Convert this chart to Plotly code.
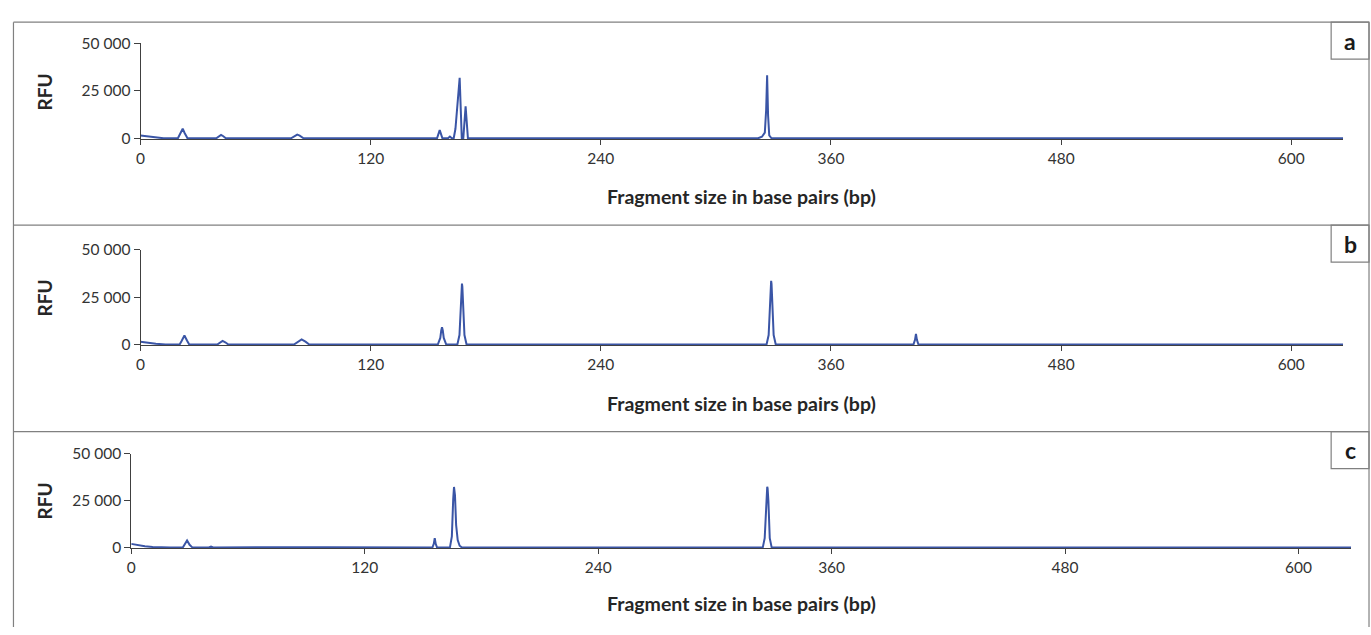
import plotly.graph_objects as go

# ---------------- data ----------------
# Panel a
bp_a = [0, 3, 6, 9, 12,
        19.5, 21, 22, 23, 24.5,
        39.5, 41, 42, 43, 44.5,
        78.5, 80.5, 81.7, 83, 85,
        154.6, 156, 157.4,
        160.3, 161.3, 162.3,
        163.3, 164.2, 166.4, 167.5,
        168.3, 169.5, 170.7,
        322, 324, 325.5, 326.2, 326.7, 327.2, 327.8, 329,
        627]
rfu_a = [1500, 1200, 700, 250, 0,
         0, 2800, 5000, 2800, 0,
         0, 1200, 1700, 1200, 0,
         0, 1400, 1900, 1400, 0,
         0, 4300, 0,
         0, 900, 0,
         0, 5000, 31800, 0,
         0, 16800, 0,
         0, 800, 3000, 15000, 33200, 12000, 1500, 0,
         0]

# Panel b
bp_b = [0, 4, 8, 13,
        20.4, 21.5, 22.9, 24.3, 25.4,
        40, 41.5, 42.8, 44.2, 45.8,
        80, 82, 84, 86, 88,
        155, 156.3, 156.8, 157.2, 157.6, 158.1, 159.4,
        165.2, 166.3, 167, 167.4, 167.6, 167.8, 168.2, 168.9, 170,
        326.4, 327.5, 328.2, 328.6, 328.8, 329.0, 329.4, 330.1, 331.2,
        403, 403.8, 404.3, 404.8, 405.6,
        627]
rfu_b = [1500, 900, 400, 0,
         0, 2000, 4800, 2000, 0,
         0, 1200, 1900, 1200, 0,
         0, 1500, 2700, 1500, 0,
         0, 3500, 7500, 9100, 7500, 3500, 0,
         0, 5000, 22000, 30500, 32100, 30500, 22000, 5000, 0,
         0, 5000, 23000, 32000, 33600, 32000, 23000, 5000, 0,
         0, 2500, 5600, 2500, 0,
         0]

# Panel c
bp_c = [0, 3, 7, 11, 15, 20,
        26.5, 27.7, 28.7, 30, 31.5,
        39.5, 41, 42.5,
        50, 70, 100, 130,
        154.8, 155.5, 156, 156.5, 157.2,
        163.8, 164.8, 165.5, 165.9, 166.4, 167, 167.8, 168.8, 170,
        324.6, 325.6, 326.3, 326.7, 326.9, 327.1, 327.5, 328.2, 329.2,
        627]
rfu_c = [2000, 1300, 700, 300, 100, 0,
         0, 2500, 3800, 1500, 0,
         0, 500, 0,
         100, 200, 150, 0,
         0, 2000, 5000, 2000, 0,
         0, 6000, 26000, 32300, 28000, 12000, 4000, 1000, 0,
         0, 5000, 25000, 31500, 32400, 31500, 25000, 5000, 0,
         0]

x_ticks = [0, 120, 240, 360, 480, 600]
y_ticks = [0, 25000, 50000]
y_ticklabels = ["0", "25 000", "50 000"]
panel_labels = ["a", "b", "c"]
x_title = "Fragment size in base pairs (bp)"
y_title = "RFU"

# ---------------- layout geometry (pixels) ----------------
W, H = 1371, 635
LINE_COLOR = "#3A55A6"
AXIS_COLOR = "#404040"
FRAME_COLOR = "#808080"
FONT = "Lato, 'Open Sans', sans-serif"


def px(x):
    return x / W


def py(y):
    return 1 - y / H


# per panel: x-left, x-right, y(50000), y(0)
panels = [
    dict(x0=136, x1=1343, ytop=34.3, ybase=132.0, bp=bp_a, rfu=rfu_a,
         title_y=192, rfu_y=84, top=12.5, bottom=221.5),
    dict(x0=136, x1=1343, ytop=246.7, ybase=344.3, bp=bp_b, rfu=rfu_b,
         title_y=405, rfu_y=296, top=221.5, bottom=434),
    dict(x0=126.7, x1=1351, ytop=456.7, ybase=553.3, bp=bp_c, rfu=rfu_c,
         title_y=611, rfu_y=505, top=434, bottom=635),
]

fig = go.Figure()
YMIN = -400
layout_axes = {}
annotations = []
shapes = []

for i, p in enumerate(panels):
    n = "" if i == 0 else str(i + 1)
    pxper = (p["ybase"] - p["ytop"]) / 50000.0
    ybottom = p["ybase"] + (-YMIN) * pxper
    fig.add_trace(go.Scatter(
        x=p["bp"], y=p["rfu"], mode="lines",
        line=dict(color=LINE_COLOR, width=2),
        xaxis="x" + n, yaxis="y" + n, showlegend=False, hoverinfo="skip"))
    layout_axes["xaxis" + n] = dict(
        domain=[px(p["x0"]), px(p["x1"])], range=[0, 627],
        anchor="y" + n, tickvals=x_ticks, ticks="outside", ticklen=5,
        tickcolor=AXIS_COLOR, showline=True, linecolor=AXIS_COLOR, linewidth=1,
        showgrid=False, zeroline=False,
        tickfont=dict(family=FONT, size=15.5, color="#333333"),
    )
    layout_axes["yaxis" + n] = dict(
        domain=[py(ybottom), py(p["ytop"])], range=[YMIN, 50000],
        anchor="x" + n, tickvals=y_ticks, ticktext=y_ticklabels, ticks="outside",
        ticklen=6, tickcolor=AXIS_COLOR, showline=True, linecolor=AXIS_COLOR,
        linewidth=1, showgrid=False, zeroline=False,
        tickfont=dict(family=FONT, size=15.5, color="#333333"),
    )
    annotations.append(dict(
        text="<b>" + x_title + "</b>", x=px((p["x0"] + p["x1"]) / 2), y=py(p["title_y"]),
        xref="paper", yref="paper", showarrow=False,
        font=dict(family=FONT, size=19.5, color="#262626"), xanchor="center", yanchor="middle"))
    annotations.append(dict(
        text="<b>" + y_title + "</b>", x=px(40), y=py(p["rfu_y"]), textangle=-90,
        xref="paper", yref="paper", showarrow=False,
        font=dict(family=FONT, size=19, color="#262626"), xanchor="center", yanchor="middle"))
    shapes.append(dict(type="rect", xref="paper", yref="paper",
                       x0=px(1331), x1=px(1369), y0=py(p["top"] + 38), y1=py(p["top"]),
                       line=dict(color=FRAME_COLOR, width=1.2), fillcolor="white"))
    annotations.append(dict(
        text="<b>" + panel_labels[i] + "</b>", x=px(1350), y=py(p["top"] + 19),
        xref="paper", yref="paper", showarrow=False,
        font=dict(family=FONT, size=23, color="#1a1a1a"), xanchor="center", yanchor="middle"))

# outer frame (left, right, top) and dividers
frame_lines = [
    (8.5, 12.5, 8.5, 635),
    (1369, 12.5, 1369, 635),
    (8.5, 12.5, 1369, 12.5),
    (8.5, 221.5, 1369, 221.5),
    (8.5, 434, 1369, 434),
]
for (xa, ya, xb, yb) in frame_lines:
    shapes.append(dict(type="line", xref="paper", yref="paper",
                       x0=px(xa), x1=px(xb), y0=py(ya), y1=py(yb),
                       line=dict(color=FRAME_COLOR, width=1.2)))

fig.update_layout(
    width=W, height=H, margin=dict(l=0, r=0, t=0, b=0),
    paper_bgcolor="white", plot_bgcolor="white",
    annotations=annotations, shapes=shapes, **layout_axes,
)

fig.write_html(
    "out.html",
    config={"displayModeBar": False},
    post_script="document.body.style.margin='0';document.body.style.overflow='hidden';",
)
